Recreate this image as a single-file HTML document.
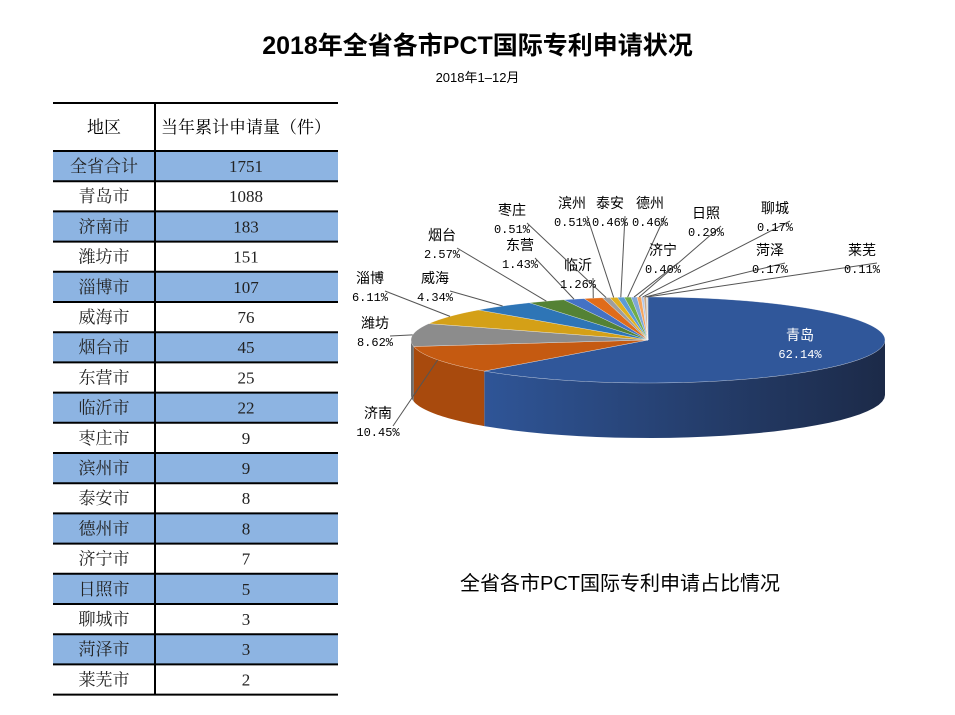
<!DOCTYPE html>
<html><head><meta charset="utf-8">
<style>
body{margin:0;background:#fff;width:955px;height:715px;overflow:hidden;position:relative;font-family:"Liberation Serif","Noto Serif CJK SC",serif;}
.t{position:absolute;white-space:nowrap}
</style></head><body>
<div class="t" style="left:0;width:955px;text-align:center;top:26px;font:bold 25px 'Liberation Sans','Noto Sans CJK SC',sans-serif;color:#000">2018年全省各市PCT国际专利申请状况</div>
<div class="t" style="left:0;width:955px;text-align:center;top:67px;font:13px 'Liberation Sans','Noto Sans CJK SC',sans-serif;">2018年1–12月</div>
<div class="t" style="left:460px;top:567px;font:20px 'Liberation Sans','Noto Sans CJK SC',sans-serif;">全省各市PCT国际专利申请占比情况</div>
<svg id="tbl" width="955" height="715" style="position:absolute;left:0;top:0"></svg>
<svg id="pie" width="955" height="715" style="position:absolute;left:0;top:0"></svg>
<script>
const cities=["全省合计","青岛市","济南市","潍坊市","淄博市","威海市","烟台市","东营市","临沂市","枣庄市","滨州市","泰安市","德州市","济宁市","日照市","聊城市","菏泽市","莱芜市"];
const counts=[1751,1088,183,151,107,76,45,25,22,9,9,8,8,7,5,3,3,2];
const pieNames=["青岛","济南","潍坊","淄博","威海","烟台","东营","临沂","枣庄","滨州","泰安","德州","济宁","日照","聊城","菏泽","莱芜"];
const pieVals=[62.14,10.45,8.62,6.11,4.34,2.57,1.43,1.26,0.51,0.51,0.46,0.46,0.40,0.29,0.17,0.17,0.11];
const NS="http://www.w3.org/2000/svg";
function mk(p,tag,a){const e=document.createElementNS(NS,tag);for(const k in a)e.setAttribute(k,a[k]);p.appendChild(e);return e;}
// table
const T=document.getElementById('tbl');
const x0=53,x1=155,x2=338,hy=103,ry0=151,rh=30.2;
const font="'Liberation Serif','Noto Serif CJK SC',serif";
let h1=mk(T,'text',{x:104,y:133,'text-anchor':'middle','font-size':17,'font-family':font});h1.textContent="地区";

let h2=mk(T,'text',{x:246,y:133,'text-anchor':'middle','font-size':17,'font-family':font});h2.textContent="当年累计申请量（件）";

cities.forEach((c,i)=>{
  const y=ry0+i*rh;
  if(i%2==0){const r=mk(T,'rect',{x:x0,y:y,width:x2-x0,height:rh,fill:'#8db4e2'});}
  const a=mk(T,'text',{x:104,y:y+21,'text-anchor':'middle','font-size':17,'font-family':font,fill:'#222'});a.textContent=c;
  
  const b=mk(T,'text',{x:246,y:y+21,'text-anchor':'middle','font-size':17,'font-family':font,fill:'#222'});b.textContent=counts[i];
  
});
for(let i=0;i<=cities.length;i++){mk(T,'line',{x1:x0,x2:x2,y1:ry0+i*rh,y2:ry0+i*rh,stroke:'#000','stroke-width':2});}
mk(T,'line',{x1:x0,x2:x2,y1:hy,y2:hy,stroke:'#000','stroke-width':2});
mk(T,'line',{x1:x1,x2:x1,y1:hy,y2:ry0+cities.length*rh,stroke:'#000','stroke-width':2});
// pie
const P=document.getElementById('pie');
const cx=648,cy=340,rx=237,ryy=43,dep=55;
const cols=["#2f5597","#c55a11","#8c8c8c","#d4a017","#2e75b6","#548235","#4472c4","#e06c1a","#9e9e9e","#e0b020","#5b9bd5","#70ad47","#7fa7d9","#f4a460","#b4c7e7","#c9a98a","#d9d9d9"];
const sides=["#1f3a6b","#a84a0d","#6e6e6e"];
const total=pieVals.reduce((a,b)=>a+b,0);
function pt(t,dy){return [cx+rx*Math.sin(t),cy-ryy*Math.cos(t)+(dy||0)];}
let ang=[0];pieVals.forEach(v=>ang.push(ang[ang.length-1]+v/total*2*Math.PI));
const defs=mk(P,'defs',{});
const g=mk(defs,'linearGradient',{id:'qg',x1:0,x2:1,y1:0,y2:0});
mk(g,'stop',{offset:0,'stop-color':'#2f5597'});mk(g,'stop',{offset:1,'stop-color':'#1c2a48'});
// sides (front half: angles PI/2 .. 3PI/2)
for(let i=0;i<pieVals.length;i++){
  let a=Math.max(ang[i],Math.PI/2),b=Math.min(ang[i+1],3*Math.PI/2);
  if(b<=a)continue;
  let d="";const n=30;
  for(let k=0;k<=n;k++){const p=pt(a+(b-a)*k/n);d+=(k?"L":"M")+p[0]+","+p[1];}
  for(let k=n;k>=0;k--){const p=pt(a+(b-a)*k/n,dep);d+="L"+p[0]+","+p[1];}
  const s=mk(P,'path',{d:d+"Z",fill:i==0?'url(#qg)':(sides[i]||cols[i])});
  
}
// top faces
for(let i=0;i<pieVals.length;i++){
  let d="M"+cx+","+cy;const n=Math.max(2,Math.ceil((ang[i+1]-ang[i])*30));
  for(let k=0;k<=n;k++){const p=pt(ang[i]+(ang[i+1]-ang[i])*k/n);d+="L"+p[0]+","+p[1];}
  const s=mk(P,'path',{d:d+"Z",fill:i==0?'#30579a':cols[i],stroke:'#ffffff','stroke-width':0.3});
  
}
// labels: [x,y name line] positions
const lp=[[800,340],[378,418],[375,328],[370,283],[435,283],[442,240],[520,250],[578,270],[512,215],[572,208],[610,208],[650,208],[663,255],[706,218],[775,213],[770,255],[862,255]];
const labelFont="'Liberation Mono','Noto Sans CJK SC',monospace";
pieNames.forEach((nm,i)=>{
  const [lx,ly]=lp[i];
  if(i>0){const m=(ang[i]+ang[i+1])/2;const p=pt(m);
    const ln=mk(P,'polyline',{points:`${lx+15},${ly+8} ${p[0]},${p[1]}`,fill:'none',stroke:'#555','stroke-width':1});
    }
  const t1=mk(P,'text',{x:lx,y:ly,'text-anchor':'middle','font-size':14,'font-family':labelFont,fill:i==0?'#fff':'#000'});t1.textContent=nm;
  
  const t2=mk(P,'text',{x:lx,y:ly+18,'text-anchor':'middle','font-size':12,'font-family':labelFont,fill:i==0?'#fff':'#000'});t2.textContent=pieVals[i].toFixed(2)+"%";
  
});
</script>
</body></html>
